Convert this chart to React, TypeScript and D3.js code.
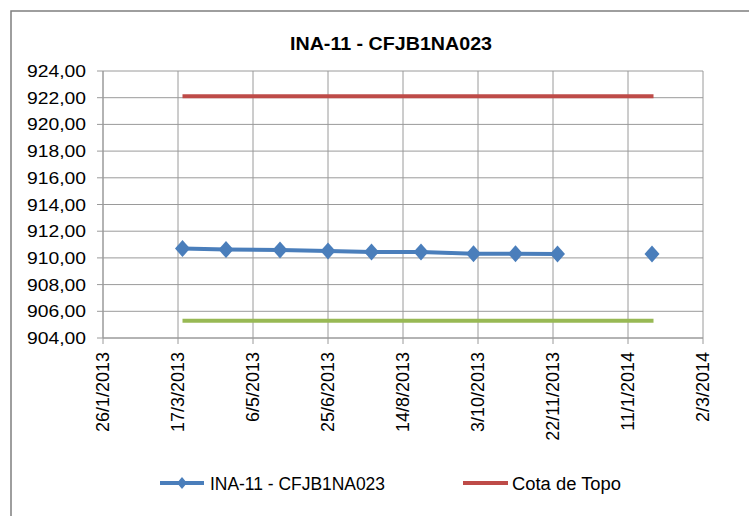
import React from "react";
import * as d3 from "d3";

const title = "INA-11 - CFJB1NA023";
const inaDates = ["2013-03-20", "2013-04-18", "2013-05-24", "2013-06-25", "2013-07-24", "2013-08-26", "2013-09-30", "2013-10-28", "2013-11-25", "2013-12-26", "2014-01-27"];
const inaValues: (number | null)[] = [910.7, 910.62, 910.6, 910.52, 910.45, 910.45, 910.32, 910.32, 910.3, null, 910.3];
const topoDates = ["2013-03-20", "2014-01-28"];
const topoValues = [922.1, 922.1];
const fundoDates = ["2013-03-20", "2014-01-28"];
const fundoValues = [905.3, 905.3];
const xTickLabels = ["26/1/2013", "17/3/2013", "6/5/2013", "25/6/2013", "14/8/2013", "3/10/2013", "22/11/2013", "11/1/2014", "2/3/2014"];
const yTicks = [904, 906, 908, 910, 912, 914, 916, 918, 920, 922, 924];
const legendNames = ["INA-11 - CFJB1NA023", "Cota de Topo"];

const parseIso = d3.utcParse("%Y-%m-%d");
const parseLabel = d3.utcParse("%d/%m/%Y");

export default function App() {
  const left = 103, right = 703, top = 71, bottom = 338;
  const tickDates = xTickLabels.map((s) => parseLabel(s) as Date);
  const x = d3.scaleUtc().domain([tickDates[0], tickDates[tickDates.length - 1]]).range([left, right]);
  const y = d3.scaleLinear().domain([904, 924]).range([bottom, top]);
  const fmtY = (v: number) => d3.format(".2f")(v).replace(".", ",");

  const ina = inaDates.map((d, i) => ({ d: parseIso(d) as Date, v: inaValues[i] }));
  const line = d3
    .line<{ d: Date; v: number | null }>()
    .defined((p) => p.v !== null)
    .x((p) => x(p.d))
    .y((p) => y(p.v as number));
  const topo = topoDates.map((d, i) => ({ d: parseIso(d) as Date, v: topoValues[i] as number | null }));
  const fundo = fundoDates.map((d, i) => ({ d: parseIso(d) as Date, v: fundoValues[i] as number | null }));

  const blue = "#4a7ebb";
  const red = "#be4b48";
  const green = "#98b954";
  const grid = "#9a9a9a";
  const font = "'Liberation Sans', Arial, sans-serif";

  const diamond = (cx: number, cy: number, w: number, h: number) =>
    `M${cx},${cy - h / 2}L${cx + w / 2},${cy}L${cx},${cy + h / 2}L${cx - w / 2},${cy}Z`;

  return (
    <svg width={749} height={516} style={{ position: "absolute", left: 0, top: 0, background: "#fff" }}>
      <rect x={0} y={0} width={749} height={516} fill="#fff" />
      <rect x={11} y={11} width={760} height={530} fill="none" stroke="#7f7f7f" strokeWidth={1.5} />
      <text x={391} y={50} textAnchor="middle" fontFamily={font} fontWeight="bold" fontSize={18} textLength={202} lengthAdjust="spacingAndGlyphs" fill="#000">
        {title}
      </text>
      {yTicks.map((t) => (
        <g key={"y" + t}>
          <line x1={97} x2={right} y1={y(t)} y2={y(t)} stroke={grid} strokeWidth={1} />
          <text x={86} y={y(t) + 6} textAnchor="end" fontFamily={font} fontSize={17} textLength={59} lengthAdjust="spacingAndGlyphs" fill="#000">
            {fmtY(t)}
          </text>
        </g>
      ))}
      {tickDates.map((d, i) => (
        <g key={"x" + i}>
          <line x1={x(d)} x2={x(d)} y1={top} y2={bottom + 6} stroke={grid} strokeWidth={1} />
          <text
            transform={`translate(${x(d) + 6},${bottom + 14}) rotate(-90)`}
            textAnchor="end"
            fontFamily={font}
            fontSize={18}
            fill="#000"
          >
            {xTickLabels[i]}
          </text>
        </g>
      ))}
      <line x1={left} x2={left} y1={top} y2={bottom} stroke={grid} strokeWidth={1} />
      <line x1={left} x2={right} y1={bottom} y2={bottom} stroke={grid} strokeWidth={1} />

      <path d={line(fundo) || ""} fill="none" stroke={green} strokeWidth={4} />
      <path d={line(topo) || ""} fill="none" stroke={red} strokeWidth={4} />
      <path d={line(ina) || ""} fill="none" stroke={blue} strokeWidth={4} />
      {ina
        .filter((p) => p.v !== null)
        .map((p, i) => (
          <path key={"m" + i} d={diamond(x(p.d), y(p.v as number), 15, 17)} fill={blue} />
        ))}

      <line x1={160} x2={204} y1={483} y2={483} stroke={blue} strokeWidth={4} />
      <path d={diamond(182, 483, 10, 12)} fill={blue} />
      <text x={210} y={490} fontFamily={font} fontSize={18} textLength={175} lengthAdjust="spacingAndGlyphs" fill="#000">
        {legendNames[0]}
      </text>
      <line x1={463} x2={508} y1={483} y2={483} stroke={red} strokeWidth={4} />
      <text x={512} y={490} fontFamily={font} fontSize={18} textLength={109} lengthAdjust="spacingAndGlyphs" fill="#000">
        {legendNames[1]}
      </text>
    </svg>
  );
}
